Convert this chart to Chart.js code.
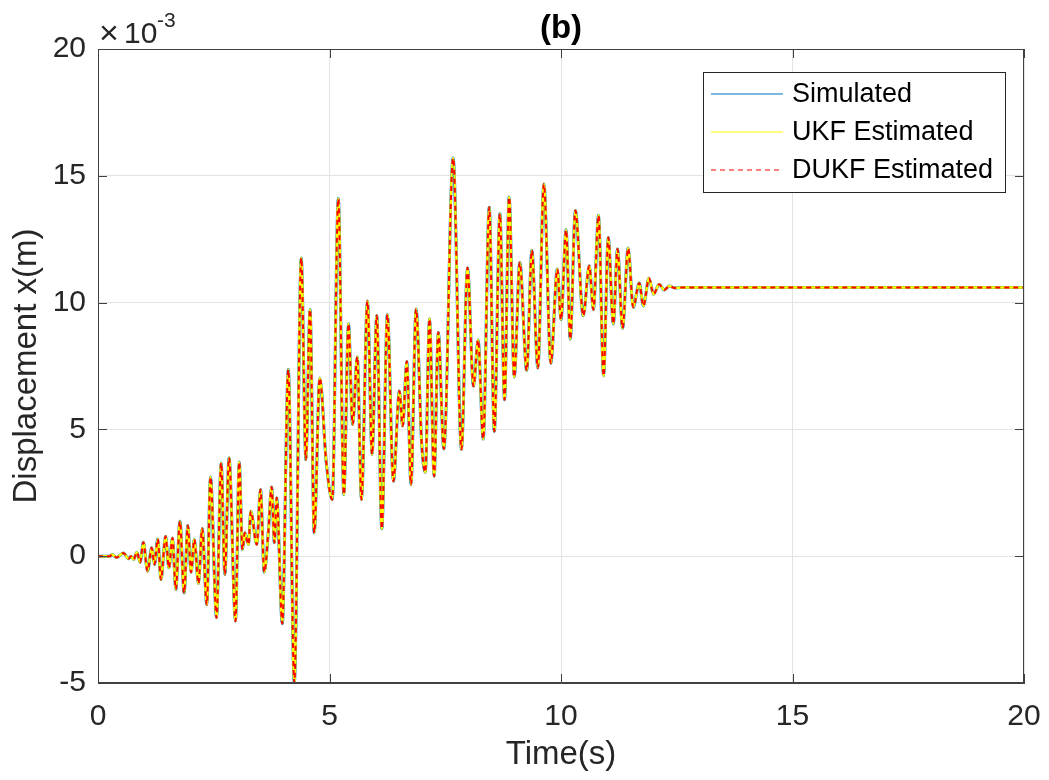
<!DOCTYPE html>
<html>
<head>
<meta charset="utf-8">
<script src="https://cdn.jsdelivr.net/npm/chart.js@4.4.1/dist/chart.umd.min.js"></script>
<style>
  html, body { margin: 0; padding: 0; background: #fff; }
  #wrap { width: 1049px; height: 780px; }
</style>
</head>
<body>
<div id="wrap"><canvas id="dispChart" width="1049" height="780"></canvas></div>
<script>
// time (s) and displacement (x 10^-3 m) at peaks / troughs
var timeS = [0, 0.26, 0.30, 0.40, 0.55, 0.66, 0.71, 0.77, 0.84, 0.91, 0.98, 1.07, 1.16, 1.22, 1.29, 1.36,
  1.46, 1.53, 1.61, 1.68, 1.77, 1.86, 1.94, 2.01, 2.08, 2.17, 2.25, 2.35, 2.43, 2.56, 2.66, 2.74,
  2.83, 2.97, 3.05, 3.12, 3.17, 3.25, 3.30, 3.43, 3.51, 3.59, 3.68, 3.75, 3.81, 3.86, 3.98, 4.11,
  4.24, 4.39, 4.49, 4.58, 4.67, 4.79, 4.93, 5.06, 5.19, 5.31, 5.41, 5.50, 5.60, 5.69, 5.82, 5.92,
  6.02, 6.13, 6.25, 6.38, 6.51, 6.58, 6.67, 6.76, 6.87, 6.99, 7.07, 7.16, 7.26, 7.35, 7.47, 7.67,
  7.85, 7.98, 8.11, 8.21, 8.32, 8.45, 8.56, 8.68, 8.78, 8.88, 8.99, 9.11, 9.26, 9.37, 9.50, 9.63,
  9.78, 9.92, 10.00, 10.11, 10.20, 10.31, 10.48, 10.61, 10.70, 10.81, 10.92, 11.02, 11.13, 11.22,
  11.33, 11.45, 11.56, 11.69, 11.78, 11.90, 12.00, 12.12, 12.23, 12.34, 12.45, 12.60, 20];
var dispE3 = [0, 0, 0.07, -0.05, 0.13, -0.10, 0.0, -0.13, 0.16, -0.24, 0.55, -0.59, 0.33, -0.33, 0.68, -0.92,
  0.79, -0.46, 0.72, -1.31, 1.38, -1.45, 1.21, -0.63, 0.66, -1.08, 1.09, -1.91, 3.12, -2.43, 3.68, -0.72,
  3.88, -2.56, 3.71, 0.26, 0.92, 0.46, 1.77, 0.46, 2.63, -0.63, 0.99, 2.73, 0.53, 2.30, -2.66, 7.36,
  -4.99, 11.76, 3.81, 9.73, 0.92, 7.03, 3.70, 2.23, 14.1, 2.43, 9.17, 5.19, 7.86, 2.23, 10.06, 4.01,
  9.49, 1.08, 9.53, 2.96, 6.51, 5.13, 7.69, 2.83, 9.75, 4.47, 3.31, 9.36, 3.15, 8.83, 4.23, 15.7,
  4.21, 11.37, 6.70, 8.53, 4.62, 13.76, 4.92, 13.50, 6.17, 14.16, 7.06, 11.58, 7.32, 12.06, 7.42, 14.68,
  7.61, 11.32, 9.32, 12.87, 8.56, 13.63, 9.48, 11.45, 9.72, 13.44, 7.11, 12.57, 9.16, 12.11,
  8.99, 12.15, 9.82, 10.77, 9.87, 10.96, 10.33, 10.72, 10.50, 10.65, 10.58, 10.60, 10.60];
var seriesNames = ['Simulated', 'UKF Estimated', 'DUKF Estimated'];
var xTicks = [0, 5, 10, 15, 20];
var yTicks = [-5, 0, 5, 10, 15, 20];

var points = timeS.map(function (t, i) { return { x: t, y: dispE3[i] }; });

Chart.defaults.font.family = "'Liberation Sans', Arial, Helvetica, sans-serif";
Chart.defaults.color = '#262626';

var axisColor = '#404040';
var gridColor = '#e3e3e3';

// MATLAB-style box, inward ticks, title, exponent and legend
var matlabDecor = {
  id: 'matlabDecor',
  afterDatasetsDraw: function (chart) {
    var ctx = chart.ctx, a = chart.chartArea;
    var xs = chart.scales.x, ys = chart.scales.y;
    ctx.save();
    ctx.strokeStyle = axisColor;
    ctx.lineWidth = 1;
    ctx.strokeRect(Math.round(a.left) + 0.5, Math.round(a.top) + 0.5,
      Math.round(a.right - a.left) - 1, Math.round(a.bottom - a.top) - 1);
    var tl = 9;
    ctx.beginPath();
    xTicks.forEach(function (v) {
      var px = Math.round(xs.getPixelForValue(v)) + 0.5;
      ctx.moveTo(px, a.bottom); ctx.lineTo(px, a.bottom - tl);
      ctx.moveTo(px, a.top); ctx.lineTo(px, a.top + tl);
    });
    yTicks.forEach(function (v) {
      var py = Math.round(ys.getPixelForValue(v)) + 0.5;
      ctx.moveTo(a.left, py); ctx.lineTo(a.left + tl, py);
      ctx.moveTo(a.right, py); ctx.lineTo(a.right - tl, py);
    });
    ctx.stroke();

    // title
    ctx.fillStyle = '#000';
    ctx.textAlign = 'center';
    ctx.textBaseline = 'alphabetic';
    ctx.font = "bold 33px 'Liberation Sans', Arial, sans-serif";
    ctx.fillText('(b)', (a.left + a.right) / 2, 38);

    // exponent label
    ctx.fillStyle = '#262626';
    ctx.textAlign = 'left';
    ctx.font = "34px 'Liberation Sans', Arial, sans-serif";
    ctx.fillText('\u00d7', 99, 44);
    ctx.font = "30px 'Liberation Sans', Arial, sans-serif";
    ctx.fillText('10', 124, 43);
    ctx.font = "21px 'Liberation Sans', Arial, sans-serif";
    ctx.fillText('-3', 157, 27);

    // legend
    var lx = 703.5, ly = 72.5, lw = 302, lh = 120;
    ctx.fillStyle = '#fff';
    ctx.fillRect(lx, ly, lw, lh);
    ctx.strokeStyle = '#262626';
    ctx.lineWidth = 1;
    ctx.strokeRect(lx, ly, lw, lh);
    var rows = [94, 132, 170];
    ctx.font = "27px 'Liberation Sans', Arial, sans-serif";
    ctx.textBaseline = 'middle';
    chart.data.datasets.forEach(function (ds, i) {
      ctx.beginPath();
      ctx.strokeStyle = ds.borderColor;
      ctx.lineWidth = 1.2;
      ctx.setLineDash(ds.borderDash || []);
      ctx.moveTo(711, rows[i]); ctx.lineTo(783, rows[i]);
      ctx.stroke();
      ctx.setLineDash([]);
      ctx.fillStyle = '#000';
      ctx.fillText(ds.label, 792, rows[i] + 1);
    });
    ctx.restore();
  }
};

var ctx = document.getElementById('dispChart').getContext('2d');
var dispChart = new Chart(ctx, {
  type: 'line',
  data: {
    datasets: [{
      label: seriesNames[0],
      data: points,
      borderColor: '#0072BD',
      borderWidth: 3,
      order: 3
    }, {
      label: seriesNames[1],
      data: points,
      borderColor: '#FFFF00',
      borderWidth: 2.5,
      order: 2
    }, {
      label: seriesNames[2],
      data: points,
      borderColor: '#FF0000',
      borderWidth: 2,
      borderDash: [5, 4],
      order: 1
    }]
  },
  options: {
    responsive: false,
    animation: false,
    parsing: false,
    layout: { padding: { top: 49, right: 25, left: 0, bottom: 0 } },
    elements: {
      point: { radius: 0 },
      line: { cubicInterpolationMode: 'monotone', fill: false }
    },
    plugins: {
      legend: { display: false },
      tooltip: { enabled: false }
    },
    scales: {
      x: {
        type: 'linear',
        min: 0, max: 20,
        afterBuildTicks: function (s) { s.ticks = xTicks.map(function (v) { return { value: v }; }); },
        afterFit: function (s) { s.height = 97; s.paddingLeft = 0; s.paddingRight = 0; },
        grid: { color: gridColor, drawTicks: false },
        border: { color: axisColor },
        ticks: { padding: 16, font: { size: 30 }, color: '#262626', maxRotation: 0 },
        title: { display: true, text: 'Time(s)', font: { size: 33 }, color: '#262626', padding: { top: 0, bottom: 5 } }
      },
      y: {
        type: 'linear',
        min: -5, max: 20,
        afterBuildTicks: function (s) { s.ticks = yTicks.map(function (v) { return { value: v }; }); },
        afterFit: function (s) { s.width = 98; s.paddingTop = 0; s.paddingBottom = 0; },
        grid: { color: gridColor, drawTicks: false },
        border: { color: axisColor },
        ticks: { padding: 12, font: { size: 30 }, color: '#262626' },
        title: { display: true, text: 'Displacement x(m)', font: { size: 33 }, color: '#262626', padding: { top: 7, bottom: 0 } }
      }
    }
  },
  plugins: [matlabDecor]
});
</script>
</body>
</html>
